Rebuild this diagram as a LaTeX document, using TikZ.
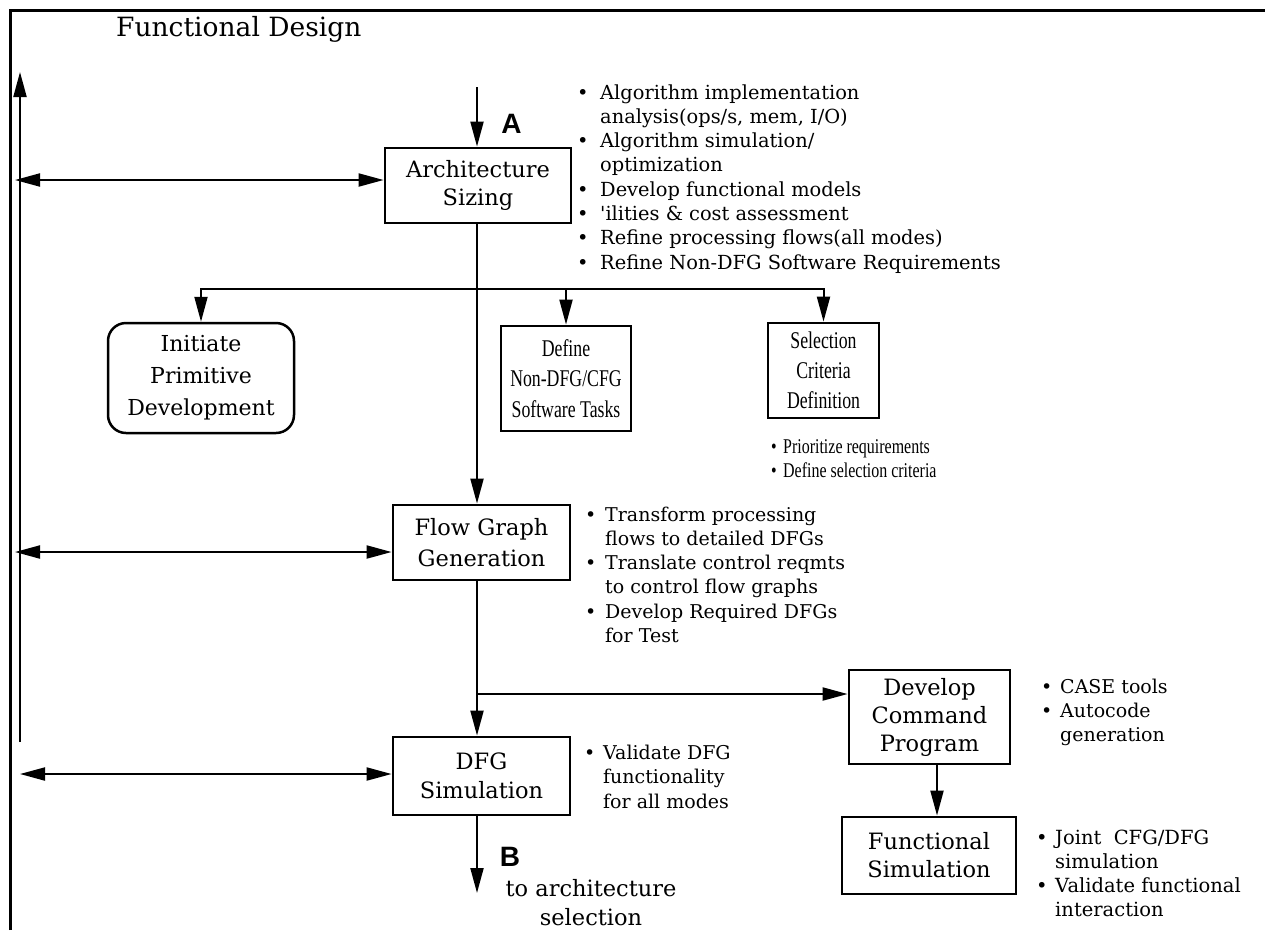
\documentclass[tikz,border=0pt]{standalone}
\usepackage{fontspec}
\usepackage{graphicx}
\setmainfont{DejaVu Serif}
\newfontfamily\condserif[FakeStretch=0.74]{Liberation Serif}
\newfontfamily\condnote[FakeStretch=0.76]{Liberation Serif}
\newfontfamily\tagsans{Liberation Sans}
\usetikzlibrary{arrows.meta}

% bullet cell of a note list (width = gap from bullet to text)
\newcommand\bu[1][20pt]{\makebox[#1][l]{•}}
% note list: first column bullets, second column text lines
\newcommand\blist[1]{\begin{tabular}[t]{@{}l@{}l@{}}#1\end{tabular}}

\begin{document}
\begin{tikzpicture}[
  x=1pt, y=-1pt,
  >={Triangle[length=25pt,width=13pt]},
  box/.style={draw, line width=2.8pt, align=center, inner sep=0pt,
              font=\fontsize{22.5}{28}\selectfont},
  wire/.style={line width=2pt},
  notes/.style={anchor=base west, inner sep=0pt,
                font=\fontsize{19}{24.5}\selectfont},
  tag/.style={inner sep=0pt, font=\tagsans\bfseries\fontsize{28}{30}\selectfont}
]
\useasboundingbox (0,0) rectangle (1265,930);

% outer frame (left and top edges)
\coordinate (f0) at (10,930);
\coordinate (f1) at (10,10);
\coordinate (f2) at (1265,10);
\draw[line width=3pt] (f0) -- (f1) -- (f2);

\node[anchor=base west, inner sep=0pt, font=\fontsize{26.5}{30}\selectfont]
  (title) at (116,36) {Functional Design};

% process boxes
\node[box, minimum width=186pt, minimum height=75pt] (arch) at (478,185.5)
  {Architecture\\Sizing};
\node[box, minimum width=177pt, minimum height=75pt,
      font=\fontsize{22.5}{31}\selectfont] (flow) at (481.5,542.5)
  {Flow Graph\\Generation};
\node[box, minimum width=177pt, minimum height=78pt,
      font=\fontsize{22.5}{29}\selectfont] (dfg) at (481.5,776)
  {DFG\\Simulation};
\node[box, minimum width=161pt, minimum height=94pt] (dev) at (929.5,717)
  {Develop\\Command\\Program};
\node[box, minimum width=174pt, minimum height=77pt] (func) at (929,855.5)
  {Functional\\Simulation};
\node[box, line width=2.5pt, rounded corners=18pt, minimum width=186pt, minimum height=110pt,
      font=\fontsize{22}{32}\selectfont] (init) at (201,378)
  {Initiate\\Primitive\\Development};
\node[box, minimum width=130pt, minimum height=105pt,
      font=\condserif\fontsize{24}{30.5}\selectfont] (def) at (566,378.5)
  {Define\\Non-DFG/CFG\\Software Tasks};
\node[box, minimum width=111pt, minimum height=95pt,
      font=\condserif\fontsize{24}{30}\selectfont] (sel) at (823.5,370.5)
  {Selection\\Criteria\\Definition};

% entry point A
\coordinate (aIn) at (477,87);
\draw[wire,->] (aIn) -- (aIn |- arch.north);
\node[tag] (A) at (511.5,124) {A};

% fan-out below Architecture Sizing
\coordinate (br) at (477,289);
\draw[wire,->] (br |- arch.south) -- (br |- flow.north);
\draw[wire,<->] (init.north) |- (sel.north |- br) -- (sel.north);
\draw[wire,->] (def.north |- br) -- (def.north);

% flow graph to simulation and command program
\draw[wire,->] (br |- flow.south) -- (br |- dfg.north);
\coordinate (br2) at (477,694);
\draw[wire,->] (br2) -- (br2 -| dev.west);
\coordinate (df) at (937,700);
\draw[wire,->] (df |- dev.south) -- (df |- func.north);

% exit point B
\coordinate (bOut) at (477,893);
\draw[wire,->] (bOut |- dfg.south) -- (bOut);
\node[tag] (B) at (510,857) {B};
\node[align=center, inner sep=0pt, font=\fontsize{22.5}{29}\selectfont]
  (toarch) at (591,903) {to architecture\\selection};

% iteration feedback on the left
\coordinate (vb) at (20,742);
\coordinate (vt) at (20,72);
\draw[wire,->] (vb) -- (vt);
\coordinate (l1) at (15,180);
\draw[wire,<->] (l1) -- (l1 -| arch.west);
\coordinate (l2) at (15,552);
\draw[wire,<->] (l2) -- (l2 -| flow.west);
\coordinate (l3) at (20,774);
\draw[wire,<->] (l3) -- (l3 -| dfg.west);

% activity notes
\node[notes, font=\fontsize{19.4}{24.3}\selectfont] (archnotes) at (577,99) {\blist{%
  \bu[23pt] & Algorithm implementation\\
            & analysis(ops/s, mem, I/O)\\
  \bu[23pt] & Algorithm simulation/\\
            & optimization\\
  \bu[23pt] & Develop functional models\\
  \bu[23pt] & \textquotesingle ilities \& cost assessment\\
  \bu[23pt] & Refine processing flows(all modes)\\
  \bu[23pt] & Refine Non-DFG Software Requirements}};

\node[notes, font=\condnote\fontsize{21}{24}\selectfont] (selnotes) at (771,453) {\blist{%
  \bu[12pt] & Prioritize requirements\\
  \bu[12pt] & Define selection criteria}};

\node[notes, font=\fontsize{19}{24.3}\selectfont] (flownotes) at (585,521) {\blist{%
  \bu & Transform processing\\
      & flows to detailed DFGs\\
  \bu & Translate control reqmts\\
      & to control flow graphs\\
  \bu & Develop Required DFGs\\
      & for Test}};

\node[notes] (dfgnotes) at (584,759) {\blist{%
  \bu[19pt] & Validate DFG\\
            & functionality\\
            & for all modes}};

\node[notes, font=\fontsize{19}{24}\selectfont] (devnotes) at (1041,693) {\blist{%
  \bu[19pt] & CASE tools\\
  \bu[19pt] & Autocode\\
            & generation}};

\node[notes, font=\fontsize{19.5}{24}\selectfont] (funcnotes) at (1036,844) {\blist{%
  \bu[19pt] & Joint\ \ CFG/DFG\\
            & simulation\\
  \bu[19pt] & Validate functional\\
            & interaction}};
\end{tikzpicture}
\end{document}
